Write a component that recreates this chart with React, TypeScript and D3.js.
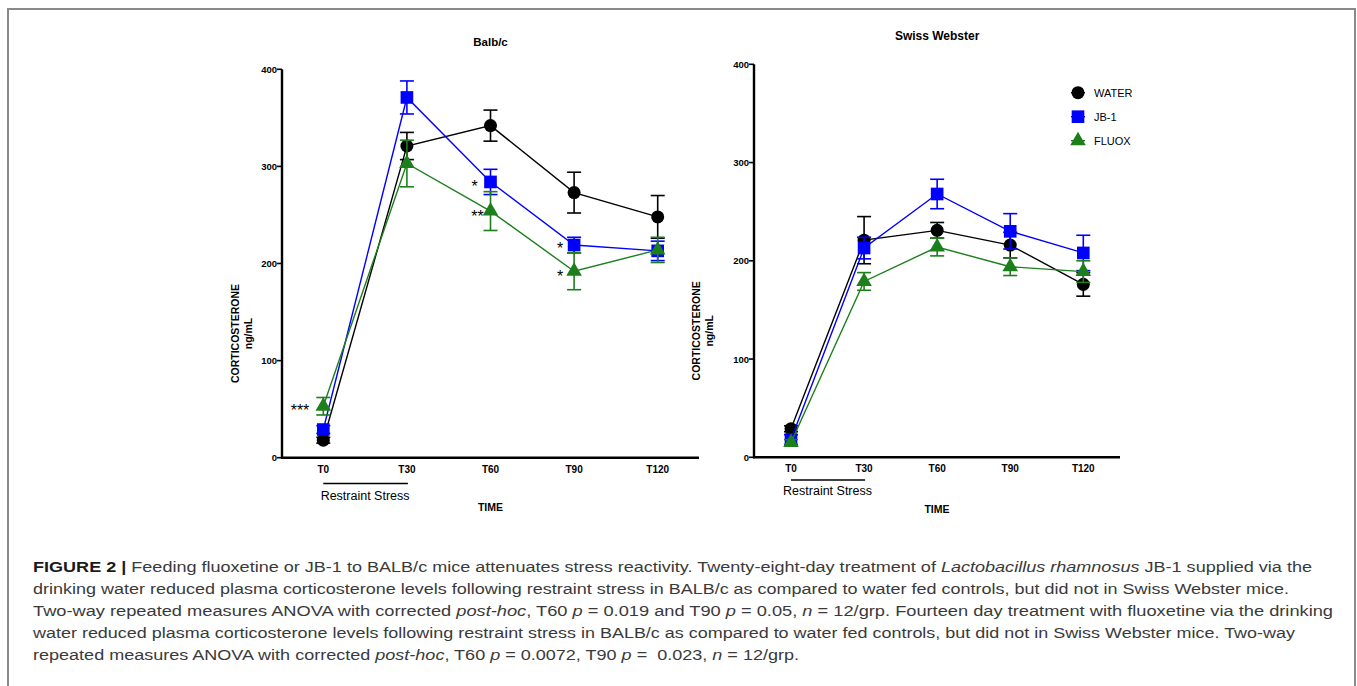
import React from "react";
import * as d3 from "d3";

const categories = ["T0", "T30", "T60", "T90", "T120"];
const yTicks = [0, 100, 200, 300, 400];

// Balb/c panel
const balbWater = [18, 321, 342, 273, 248];
const balbWaterErr = [3, 14, 16, 21, 22];
const balbJB1 = [29, 371, 284, 219, 213];
const balbJB1Err = [4, 17, 13, 8, 10];
const balbFluox = [53, 303, 254, 192, 214];
const balbFluoxErr = [9, 24, 20, 19, 13];

// Swiss Webster panel
const swissWater = [29, 221, 231, 216, 176];
const swissWaterErr = [3, 24, 8, 13, 12];
const swissJB1 = [18, 213, 268, 230, 208];
const swissJB1Err = [5, 11, 15, 18, 18];
const swissFluox = [15, 179, 214, 194, 189];
const swissFluoxErr = [3, 9, 9, 9, 11];

const seriesNames = ["WATER", "JB-1", "FLUOX"];
const seriesColors = ["#000000", "#0000ff", "#1c7f1c"];
const seriesShapes = [d3.symbolCircle, d3.symbolSquare, d3.symbolTriangle];
const seriesSizes = [133, 160, 105];

const FONT = "'Liberation Sans', Arial, Helvetica, sans-serif";

type Panel = {
  title: string;
  titleY: number;
  titleSize: number;
  x0: number; x1: number;
  p0: number; p1: number;
  yBottom: number; yTop: number;
  values: number[][];
  errs: number[][];
  stressLineY: number;
  stressTextY: number;
  timeY: number;
  yTitleX: number;
};

const panels: Panel[] = [
  {
    title: "Balb/c", titleY: 46, titleSize: 11.5,
    x0: 282, x1: 699, p0: 323.3, p1: 657.7,
    yBottom: 457.7, yTop: 69.3,
    values: [balbWater, balbJB1, balbFluox],
    errs: [balbWaterErr, balbJB1Err, balbFluoxErr],
    stressLineY: 483.5, stressTextY: 500, timeY: 511, yTitleX: 239,
  },
  {
    title: "Swiss Webster", titleY: 40, titleSize: 12,
    x0: 754, x1: 1120, p0: 791, p1: 1083.3,
    yBottom: 457.3, yTop: 64.3,
    values: [swissWater, swissJB1, swissFluox],
    errs: [swissWaterErr, swissJB1Err, swissFluoxErr],
    stressLineY: 480, stressTextY: 495, timeY: 513, yTitleX: 700,
  },
];

function PanelView({ p, legend }: { p: Panel; legend: boolean }) {
  const x = d3.scalePoint<string>().domain(categories).range([p.p0, p.p1]);
  const y = d3.scaleLinear().domain([0, 400]).range([p.yBottom, p.yTop]);
  const line = d3
    .line<number>()
    .x((_, i) => x(categories[i]) as number)
    .y((d) => y(d));
  const cx = (p.x0 + p.x1) / 2;
  const xT0 = x("T0") as number;
  const xT30 = x("T30") as number;
  return (
    <g>
      <text x={(x("T60") as number)} y={p.titleY} textAnchor="middle" fontFamily={FONT} fontWeight="bold" fontSize={p.titleSize}>
        {p.title}
      </text>
      {p.values.map((vals, s) => (
        <g key={s}>
          <path d={line(vals) || ""} fill="none" stroke={seriesColors[s]} strokeWidth={1.4} />
          {vals.map((v, i) => {
            const px = x(categories[i]) as number;
            const e = p.errs[s][i];
            return (
              <g key={i} stroke={seriesColors[s]} strokeWidth={1.6}>
                <line x1={px} x2={px} y1={y(v - e)} y2={y(v + e)} />
                <line x1={px - 7} x2={px + 7} y1={y(v + e)} y2={y(v + e)} />
                <line x1={px - 7} x2={px + 7} y1={y(v - e)} y2={y(v - e)} />
              </g>
            );
          })}
          {vals.map((v, i) => (
            <path
              key={"m" + i}
              d={d3.symbol(seriesShapes[s], seriesSizes[s])() || ""}
              transform={`translate(${x(categories[i])},${y(v)})`}
              fill={seriesColors[s]}
            />
          ))}
        </g>
      ))}
      <line x1={p.x0} x2={p.x0} y1={y(0) + 1} y2={y(400)} stroke="#000" strokeWidth={2.4} />
      <line x1={p.x0 - 1} x2={p.x1} y1={y(0)} y2={y(0)} stroke="#000" strokeWidth={2.4} />
      {yTicks.map((t) => (
        <g key={t}>
          <line x1={p.x0 - 5} x2={p.x0} y1={y(t)} y2={y(t)} stroke="#000" strokeWidth={1.6} />
          <text x={p.x0 - 5} y={y(t) + 3.5} textAnchor="end" fontFamily={FONT} fontWeight="bold" fontSize={9.5}>
            {t}
          </text>
        </g>
      ))}
      {categories.map((c) => (
        <text key={c} x={x(c) as number} y={p.yBottom + 15} textAnchor="middle" fontFamily={FONT} fontWeight="bold" fontSize={10}>
          {c}
        </text>
      ))}
      <line x1={xT0} x2={xT30 + 1} y1={p.stressLineY} y2={p.stressLineY} stroke="#000" strokeWidth={1.6} />
      <text x={(xT0 + xT30) / 2} y={p.stressTextY} textAnchor="middle" fontFamily={FONT} fontSize={12.5}>
        Restraint Stress
      </text>
      <text x={cx} y={p.timeY} textAnchor="middle" fontFamily={FONT} fontWeight="bold" fontSize={10.5}>
        TIME
      </text>
      <text transform={`translate(${p.yTitleX},${(p.yBottom + p.yTop) / 2 + 70}) rotate(-90)`} textAnchor="middle" fontFamily={FONT} fontWeight="bold" fontSize={10.5}>
        CORTICOSTERONE
      </text>
      <text transform={`translate(${p.yTitleX + 12.5},${(p.yBottom + p.yTop) / 2 + 70}) rotate(-90)`} textAnchor="middle" fontFamily={FONT} fontWeight="bold" fontSize={10.5}>
        ng/mL
      </text>
      {legend &&
        seriesNames.map((n, s) => (
          <g key={n} transform={`translate(1078,${92.7 + s * 24})`}>
            <line x1={-7} x2={7} y1={0} y2={0} stroke={seriesColors[s]} strokeWidth={1.4} />
            <path d={d3.symbol(seriesShapes[s], seriesSizes[s])() || ""} fill={seriesColors[s]} />
            <text x={16} y={4} fontFamily={FONT} fontSize={11}>
              {n}
            </text>
          </g>
        ))}
    </g>
  );
}

const sigMarks = [
  { text: "***", x: 300, y: 407 },
  { text: "*", x: 474.5, y: 183 },
  { text: "**", x: 477.5, y: 213 },
  { text: "*", x: 560, y: 245 },
  { text: "*", x: 560, y: 273 },
];

type Seg = { t: string; b?: boolean; i?: boolean };
const captionLines: { segs: Seg[]; w: number }[] = [
  {
    w: 1279,
    segs: [
      { t: "FIGURE 2 |", b: true },
      { t: " Feeding fluoxetine or JB-1 to BALB/c mice attenuates stress reactivity. Twenty-eight-day treatment of " },
      { t: "Lactobacillus rhamnosus", i: true },
      { t: " JB-1 supplied via the" },
    ],
  },
  {
    w: 1256,
    segs: [{ t: "drinking water reduced plasma corticosterone levels following restraint stress in BALB/c as compared to water fed controls, but did not in Swiss Webster mice." }],
  },
  {
    w: 1300,
    segs: [
      { t: "Two-way repeated measures ANOVA with corrected " },
      { t: "post-hoc", i: true },
      { t: ", T60 " },
      { t: "p", i: true },
      { t: " = 0.019 and T90 " },
      { t: "p", i: true },
      { t: " = 0.05, " },
      { t: "n", i: true },
      { t: " = 12/grp. Fourteen day treatment with fluoxetine via the drinking" },
    ],
  },
  {
    w: 1262,
    segs: [{ t: "water reduced plasma corticosterone levels following restraint stress in BALB/c as compared to water fed controls, but did not in Swiss Webster mice. Two-way" }],
  },
  {
    w: 766,
    segs: [
      { t: "repeated measures ANOVA with corrected " },
      { t: "post-hoc", i: true },
      { t: ", T60 " },
      { t: "p", i: true },
      { t: " = 0.0072, T90 " },
      { t: "p", i: true },
      { t: " =\u00a0 0.023, " },
      { t: "n", i: true },
      { t: " = 12/grp." },
    ],
  },
];

export default function App() {
  return (
    <svg
      width={1357}
      height={686}
      style={{ position: "absolute", left: 0, top: 0, background: "#fff" }}
    >
      <rect x={0} y={0} width={1357} height={686} fill="#fff" />
      <path d="M8,700 V9 H1355 V700" fill="none" stroke="#8a8a8a" strokeWidth={2} />
      {panels.map((p, k) => (
        <PanelView key={k} p={p} legend={k === 1} />
      ))}
      {sigMarks.map((m, k) => (
        <text key={k} x={m.x} y={m.y + 9} textAnchor="middle" fontFamily={FONT} fontSize={16}>
          {m.text}
        </text>
      ))}
      {captionLines.map((l, k) => (
        <text
          key={k}
          x={33}
          y={572 + k * 22}
          fontFamily={FONT}
          fontSize={15.5}
          fill="#3a3a3a"
          textLength={l.w}
          lengthAdjust="spacingAndGlyphs"
        >
          {l.segs.map((s, j) => (
            <tspan
              key={j}
              fontWeight={s.b ? "bold" : "normal"}
              fontStyle={s.i ? "italic" : "normal"}
              fill={s.b ? "#1a1a1a" : "#3a3a3a"}
            >
              {s.t}
            </tspan>
          ))}
        </text>
      ))}
    </svg>
  );
}
